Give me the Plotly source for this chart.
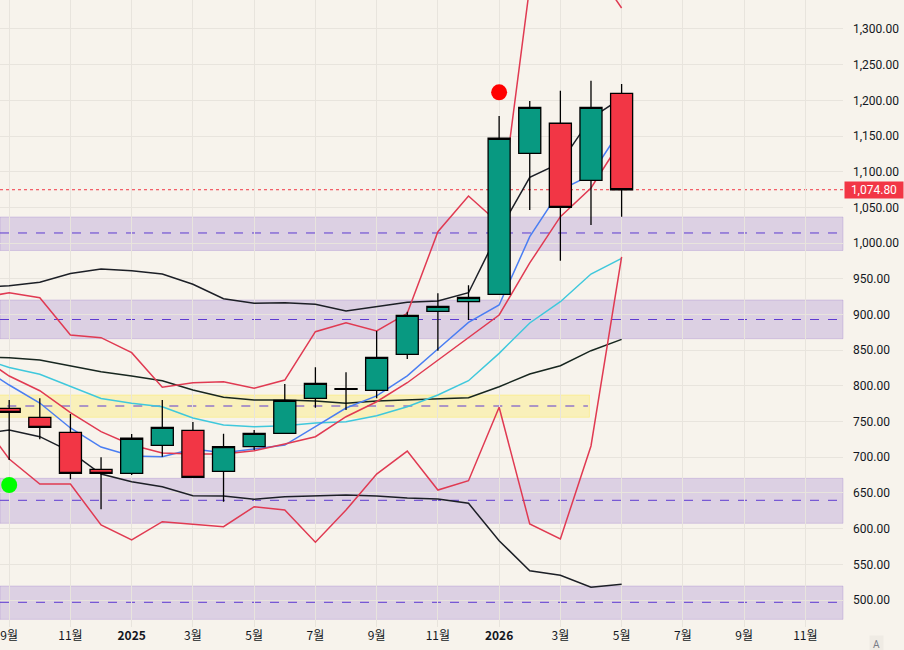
import plotly.graph_objects as go

# ---- data (month index: 0 = 2024-08, 1 = 2024-09, ... 21 = 2026-05) ----
candle_idx = list(range(1, 22))
opens  = [768.6, 756.0, 734.9, 683.1, 677.5, 716.7, 737.8, 680.3, 715.0, 733.6,
          782.6, 795.2, 793.8, 844.2, 904.5, 917.9, 928.3, 1125.8, 1167.9, 1088.0, 1209.9]
highs  = [780.2, 782.6, 760.6, 700.0, 732.6, 780.2, 749.4, 733.0, 738.2, 802.6,
          826.0, 819.0, 876.9, 903.9, 929.7, 941.0, 1178.1, 1199.1, 1213.6, 1227.6, 1222.9]
lows   = [696.1, 725.2, 669.1, 627.1, 675.1, 700.8, 671.9, 637.7, 710.2, 733.0,
          769.4, 766.2, 782.6, 837.7, 849.3, 892.3, 928.0, 1046.4, 975.4, 1025.4, 1037.0]
closes = [763.0, 742.0, 677.5, 677.5, 726.6, 742.0, 671.9, 714.8, 733.6, 779.8,
          803.6, 796.0, 840.0, 898.9, 911.5, 924.1, 1146.9, 1190.3, 1050.2, 1190.3, 1074.8]

line_idx = list(range(0, 22))
upper_black = [938.0, 940.4, 945.1, 957.4, 963.7, 961.4, 956.7, 942.3, 922.1, 915.7, 916.5,
               914.3, 904.9, 910.9, 917.1, 918.9, 930.5, 1017.0, 1092.2, 1112.3, 1175.0, 1203.3]
mid_black   = [840.0, 839.5, 836.2, 828.3, 819.9, 813.9, 807.2, 794.2, 784.0, 780.2, 780.2,
               778.8, 775.6, 778.8, 780.2, 781.2, 783.4, 798.8, 816.6, 828.3, 849.3, 865.2]
lower_black = [732.6, 738.2, 728.8, 707.8, 676.5, 665.7, 658.7, 646.1, 645.7, 641.0, 644.7,
               645.7, 647.0, 645.7, 642.9, 641.5, 635.5, 583.1, 541.1, 534.6, 517.8, 522.0]
blue_line   = [829.0, 801.2, 776.0, 741.0, 714.3, 701.8, 700.8, 711.6, 706.4, 711.6, 717.1,
               742.8, 769.0, 786.0, 814.0, 851.7, 889.0, 913.3, 1009.0, 1074.4, 1095.4, 1161.3]
cyan_line   = [840.0, 825.7, 816.2, 798.8, 782.3, 775.6, 770.8, 755.0, 745.2, 742.8, 744.2,
               748.0, 749.8, 758.2, 770.8, 787.2, 807.2, 845.6, 888.1, 917.9, 956.7, 978.7]
mid_red     = [843.0, 813.8, 793.2, 762.4, 735.8, 717.2, 706.0, 704.6, 704.6, 709.2, 718.6,
               728.8, 756.8, 777.8, 804.4, 836.2, 867.1, 899.3, 972.2, 1037.0, 1077.2, 1144.5]
upper_red   = [922.8, 930.5, 923.5, 871.3, 867.5, 846.5, 798.0, 804.4, 805.8, 796.6, 808.2,
               875.9, 888.5, 876.9, 901.7, 1016.0, 1066.0, 1027.5, 1360.0, 1390.0, 1392.0, 1329.4]
lower_red   = [756.4, 697.5, 662.5, 662.5, 605.1, 584.1, 609.7, 606.5, 602.7, 630.7, 626.1,
               581.0, 626.0, 676.5, 708.7, 654.1, 667.1, 770.0, 606.5, 585.5, 715.8, 980.6]

# zones: (bottom, top, mid)
purple_zones = [(989.7, 1036.6, 1014.2), (866.1, 920.3, 893.0),
                (607.5, 670.5, 639.7), (472.9, 519.6, 496.8)]
yellow_zone = (756.0, 787.2, 771.8)
yellow_end_idx = 19.95

last_price = 1074.8
buy_signal = (1, 661.1)
sell_signal = (17, 1211.3)

tick_pos = [1, 3, 5, 7, 9, 11, 13, 15, 17, 19, 21, 23, 25, 27]
tick_text = ['9월', '11월', '<b>2025</b>', '3월', '5월', '7월', '9월', '11월',
             '<b>2026</b>', '3월', '5월', '7월', '9월', '11월']
y_ticks = list(range(500, 1301, 50))

X_RANGE = [0.70, 28.23]
Y_RANGE = [462.2, 1340.6]

# ---- figure ----
fig = go.Figure()

def add_line(vals, color, width=1.5):
    fig.add_trace(go.Scatter(x=line_idx, y=vals, mode='lines',
                             line=dict(color=color, width=width),
                             hoverinfo='skip', showlegend=False))

add_line(upper_black, '#1c1f26')
add_line(mid_black, '#17261f')
add_line(lower_black, '#1c1f26')
add_line(cyan_line, '#3fc8dc')
add_line(blue_line, '#4a7ef2')
add_line(mid_red, '#e03a52')
add_line(upper_red, '#e03a52')
add_line(lower_red, '#e03a52')

# candles on an overlaying subplot so that bodies sit above the indicator lines
fig.add_trace(go.Candlestick(
    x=candle_idx, open=opens, high=highs, low=lows, close=closes,
    xaxis='x2', yaxis='y2',
    increasing=dict(fillcolor='#089981', line=dict(color='#000000', width=1.3)),
    decreasing=dict(fillcolor='#f23645', line=dict(color='#000000', width=1.3)),
    whiskerwidth=0, showlegend=False, hoverinfo='skip'))

fig.add_trace(go.Scatter(x=[buy_signal[0]], y=[buy_signal[1]], mode='markers',
                         xaxis='x2', yaxis='y2',
                         marker=dict(color='#00ff00', size=16), showlegend=False, hoverinfo='skip'))
fig.add_trace(go.Scatter(x=[sell_signal[0]], y=[sell_signal[1]], mode='markers',
                         xaxis='x2', yaxis='y2',
                         marker=dict(color='#ff0000', size=16), showlegend=False, hoverinfo='skip'))

shapes = []
for lo, hi, mid in purple_zones:
    shapes.append(dict(type='rect', xref='paper', yref='y', x0=0, x1=1, y0=lo, y1=hi,
                       fillcolor='rgba(126,87,194,0.22)',
                       line=dict(color='rgba(126,87,194,0.22)', width=1), layer='below'))
    shapes.append(dict(type='line', xref='paper', yref='y', x0=0, x1=1, y0=mid, y1=mid,
                       line=dict(color='#5e3bd0', width=1, dash='dash'), layer='below'))
lo, hi, mid = yellow_zone
shapes.append(dict(type='rect', xref='x', yref='y', x0=-2, x1=yellow_end_idx, y0=lo, y1=hi,
                   fillcolor='rgba(255,235,59,0.28)',
                   line=dict(color='rgba(255,235,59,0.35)', width=1), layer='below'))
shapes.append(dict(type='line', xref='x', yref='y', x0=-2, x1=yellow_end_idx - 0.05, y0=mid, y1=mid,
                   line=dict(color='#5e3bd0', width=1, dash='dash'), layer='below'))
shapes.append(dict(type='line', xref='paper', yref='y', x0=0, x1=1, y0=last_price, y1=last_price,
                   line=dict(color='#f23645', width=1, dash='dot'), layer='below'))

annotations = [
    dict(xref='paper', yref='y', x=1, y=last_price, xanchor='left', yanchor='middle',
         text='1,074.80', showarrow=False, xshift=1, width=58, height=16, align='center',
         bgcolor='#f23645', font=dict(color='white', size=12, family='Roboto'), borderpad=0),
    dict(xref='paper', yref='paper', x=1, y=1.0105, xanchor='left', yanchor='middle',
         text='1,350.00', showarrow=False, xshift=8,
         font=dict(color='#131722', size=12, family='Roboto')),
    dict(xref='paper', yref='paper', x=1, y=0, xanchor='center', yanchor='top',
         text='A', showarrow=False, xshift=33, yshift=-8, bgcolor='#efebe4', borderpad=3,
         font=dict(color='#787b86', size=10, family='Roboto')),
]

fig.update_layout(
    width=904, height=650,
    margin=dict(l=0, r=61, t=0, b=23),
    paper_bgcolor='#f7f3ec', plot_bgcolor='#f7f3ec',
    boxgap=0.28, boxgroupgap=0,
    shapes=shapes, annotations=annotations,
    showlegend=False, hovermode=False,
    xaxis=dict(range=X_RANGE, tickmode='array', tickvals=tick_pos, ticktext=tick_text,
               showgrid=True, gridcolor='#e8e4dd', gridwidth=1, zeroline=False,
               rangeslider=dict(visible=False), showline=False, ticks='',
               tickfont=dict(color='#131722', size=12, family='Noto Sans CJK KR'),
               fixedrange=True),
    yaxis=dict(range=Y_RANGE, side='right', tickmode='array', tickvals=y_ticks,
               tickformat=',.2f', showgrid=True, gridcolor='#e8e4dd', gridwidth=1,
               zeroline=False, ticks='', ticklabelstandoff=9, showline=False,
               tickfont=dict(color='#131722', size=12, family='Roboto'), fixedrange=True),
    xaxis2=dict(range=X_RANGE, overlaying='x', visible=False, showgrid=False,
                zeroline=False, rangeslider=dict(visible=False), fixedrange=True),
    yaxis2=dict(range=Y_RANGE, overlaying='y', side='right', visible=False, showgrid=False,
                zeroline=False, fixedrange=True),
)

fig.write_html('out.html')
